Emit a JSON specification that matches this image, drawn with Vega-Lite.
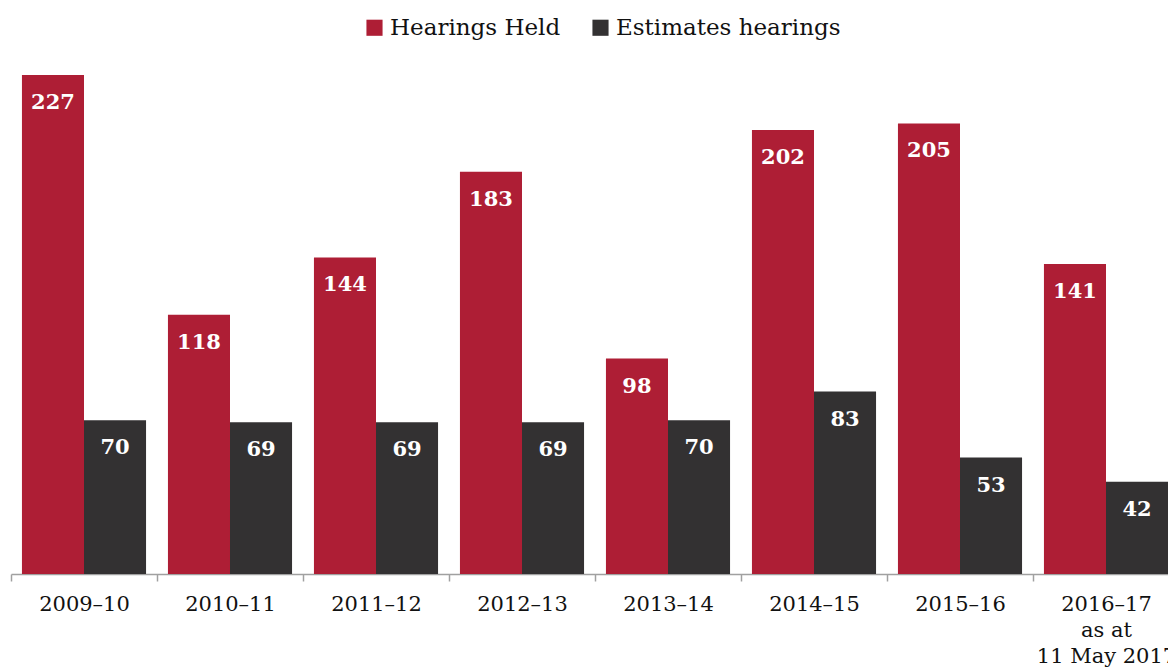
{
  "$schema": "https://vega.github.io/schema/vega-lite/v6.json",
  "width": 1168,
  "height": 524,
  "autosize": {"type": "none"},
  "padding": {"left": 11, "top": 50, "right": 0, "bottom": 94},
  "config": {"view": {"stroke": null}},
  "data": {"values": [
    {"year": "2009–10", "series": "Hearings Held", "value": 227},
    {"year": "2009–10", "series": "Estimates hearings", "value": 70},
    {"year": "2010–11", "series": "Hearings Held", "value": 118},
    {"year": "2010–11", "series": "Estimates hearings", "value": 69},
    {"year": "2011–12", "series": "Hearings Held", "value": 144},
    {"year": "2011–12", "series": "Estimates hearings", "value": 69},
    {"year": "2012–13", "series": "Hearings Held", "value": 183},
    {"year": "2012–13", "series": "Estimates hearings", "value": 69},
    {"year": "2013–14", "series": "Hearings Held", "value": 98},
    {"year": "2013–14", "series": "Estimates hearings", "value": 70},
    {"year": "2014–15", "series": "Hearings Held", "value": 202},
    {"year": "2014–15", "series": "Estimates hearings", "value": 83},
    {"year": "2015–16", "series": "Hearings Held", "value": 205},
    {"year": "2015–16", "series": "Estimates hearings", "value": 53},
    {"year": "2016–17|as at|11 May 2017", "series": "Hearings Held", "value": 141},
    {"year": "2016–17|as at|11 May 2017", "series": "Estimates hearings", "value": 42}
  ]},
  "encoding": {
    "x": {
      "field": "year", "type": "nominal", "sort": null,
      "scale": {"paddingInner": 0.15, "paddingOuter": 0.075},
      "axis": {
        "title": null, "labelAngle": 0, "labelFont": "DejaVu Serif", "labelFontSize": 21,
        "labelColor": "#111111", "labelPadding": 12, "labelLineHeight": 26,
        "labelExpr": "split(datum.label, '|')", "labelOverlap": false, "labelBound": false,
        "tickOffset": -73, "labelOffset": 73,
        "tickSize": 7, "tickColor": "#A0A0A0", "tickWidth": 1.5,
        "domainColor": "#A0A0A0", "domainWidth": 1.5
      }
    },
    "xOffset": {"field": "series", "type": "nominal", "sort": ["Hearings Held", "Estimates hearings"]},
    "y": {"field": "value", "type": "quantitative", "scale": {"domain": [0, 238.4], "nice": false}, "axis": null}
  },
  "layer": [
    {
      "mark": {"type": "bar"},
      "encoding": {
        "color": {
          "field": "series", "type": "nominal",
          "scale": {"domain": ["Hearings Held", "Estimates hearings"], "range": ["#AE1E35", "#333132"]},
          "legend": {
            "title": null, "orient": "none", "direction": "horizontal",
            "legendX": 352, "legendY": -34,
            "symbolType": "square", "symbolSize": 260, "symbolStrokeWidth": 0, "symbolOpacity": 1,
            "labelFont": "DejaVu Serif", "labelFontSize": 23, "labelColor": "#111111", "labelLimit": 400,
            "columnPadding": 28, "labelOffset": 4
          }
        }
      }
    },
    {
      "mark": {"type": "text", "dy": 28, "baseline": "middle", "color": "white", "font": "DejaVu Serif", "fontWeight": "bold", "fontSize": 21},
      "encoding": {"text": {"field": "value", "type": "quantitative"}}
    }
  ]
}
